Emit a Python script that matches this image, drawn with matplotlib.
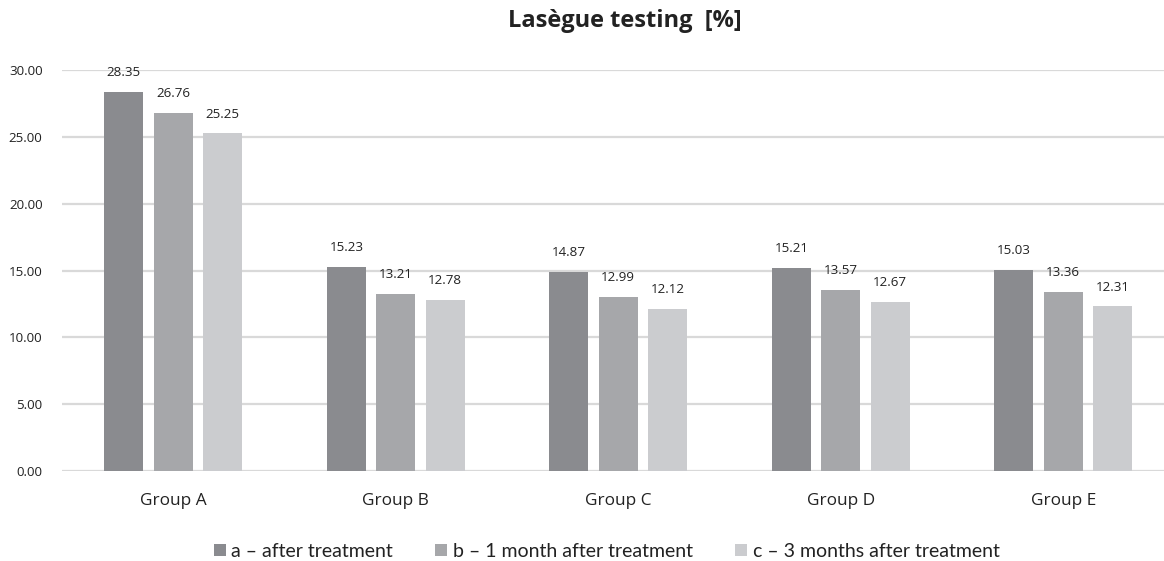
import numpy as np
import matplotlib.pyplot as plt
from matplotlib.patches import Patch

# Lasègue test results per group at three time points
groups = ["Group A", "Group B", "Group C", "Group D", "Group E"]
series_names = ["a – after treatment", "b – 1 month after treatment", "c – 3 months after treatment"]
after_treatment = [28.35, 15.23, 14.87, 15.21, 15.03]
one_month = [26.76, 13.21, 12.99, 13.57, 13.36]
three_months = [25.25, 12.78, 12.12, 12.67, 12.31]
yticks = [0, 5, 10, 15, 20, 25, 30]

colors = ["#8a8b8f", "#a6a7aa", "#cbcccf"]
series = [after_treatment, one_month, three_months]

fig = plt.figure(figsize=(11.64, 5.61), dpi=100)
# plot area runs past the right edge of the figure (gridlines get cut off there)
ax = fig.add_axes([62 / 1164, 90 / 561, 1112.5 / 1164, 401 / 561])

x = np.arange(len(groups))
width = 0.175
step = 0.222

for i, (vals, col) in enumerate(zip(series, colors)):
    pos = x + (i - 1) * step
    ax.bar(pos, vals, width=width, color=col, zorder=3)
    for p, v in zip(pos, vals):
        ax.annotate(f"{v:.2f}", (p, v), xytext=(0, 14), textcoords="offset points",
                    ha="center", va="center", fontsize=9.6, color="#222222",
                    family="Open Sans")

ax.set_xlim(-0.5, len(groups) - 0.5)
ax.set_ylim(0, 30)
ax.set_yticks(yticks)
ax.set_yticklabels([f"{t:.2f}" for t in yticks], family="Open Sans", fontsize=9.6, color="#222222")
ax.set_xticks(x)
ax.set_xticklabels(groups, family="Open Sans", fontsize=12.4, color="#222222")
ax.tick_params(axis="both", length=0)
ax.tick_params(axis="y", pad=14)
ax.tick_params(axis="x", pad=15.5)

ax.grid(axis="y", color="#d9d9d9", linewidth=1.6, zorder=0)
for s in ax.spines.values():
    s.set_visible(False)

fig.text(0.537, 0.962, "Lasègue testing  [%]", ha="center", va="center",
         fontsize=17, fontweight="bold", family="Open Sans", color="#222222")

handles = [Patch(facecolor=c, edgecolor="none") for c in colors]
fig.legend(handles, series_names, loc="center", bbox_to_anchor=(606.5 / 1164, 0.017),
           ncol=3, frameon=False, prop={"family": "Lato", "size": 14},
           handlelength=0.62, handleheight=0.62, handletextpad=0.3, columnspacing=2.15,
           labelcolor="#222222", borderpad=0, borderaxespad=0)

fig.savefig("out.png", dpi=100)
